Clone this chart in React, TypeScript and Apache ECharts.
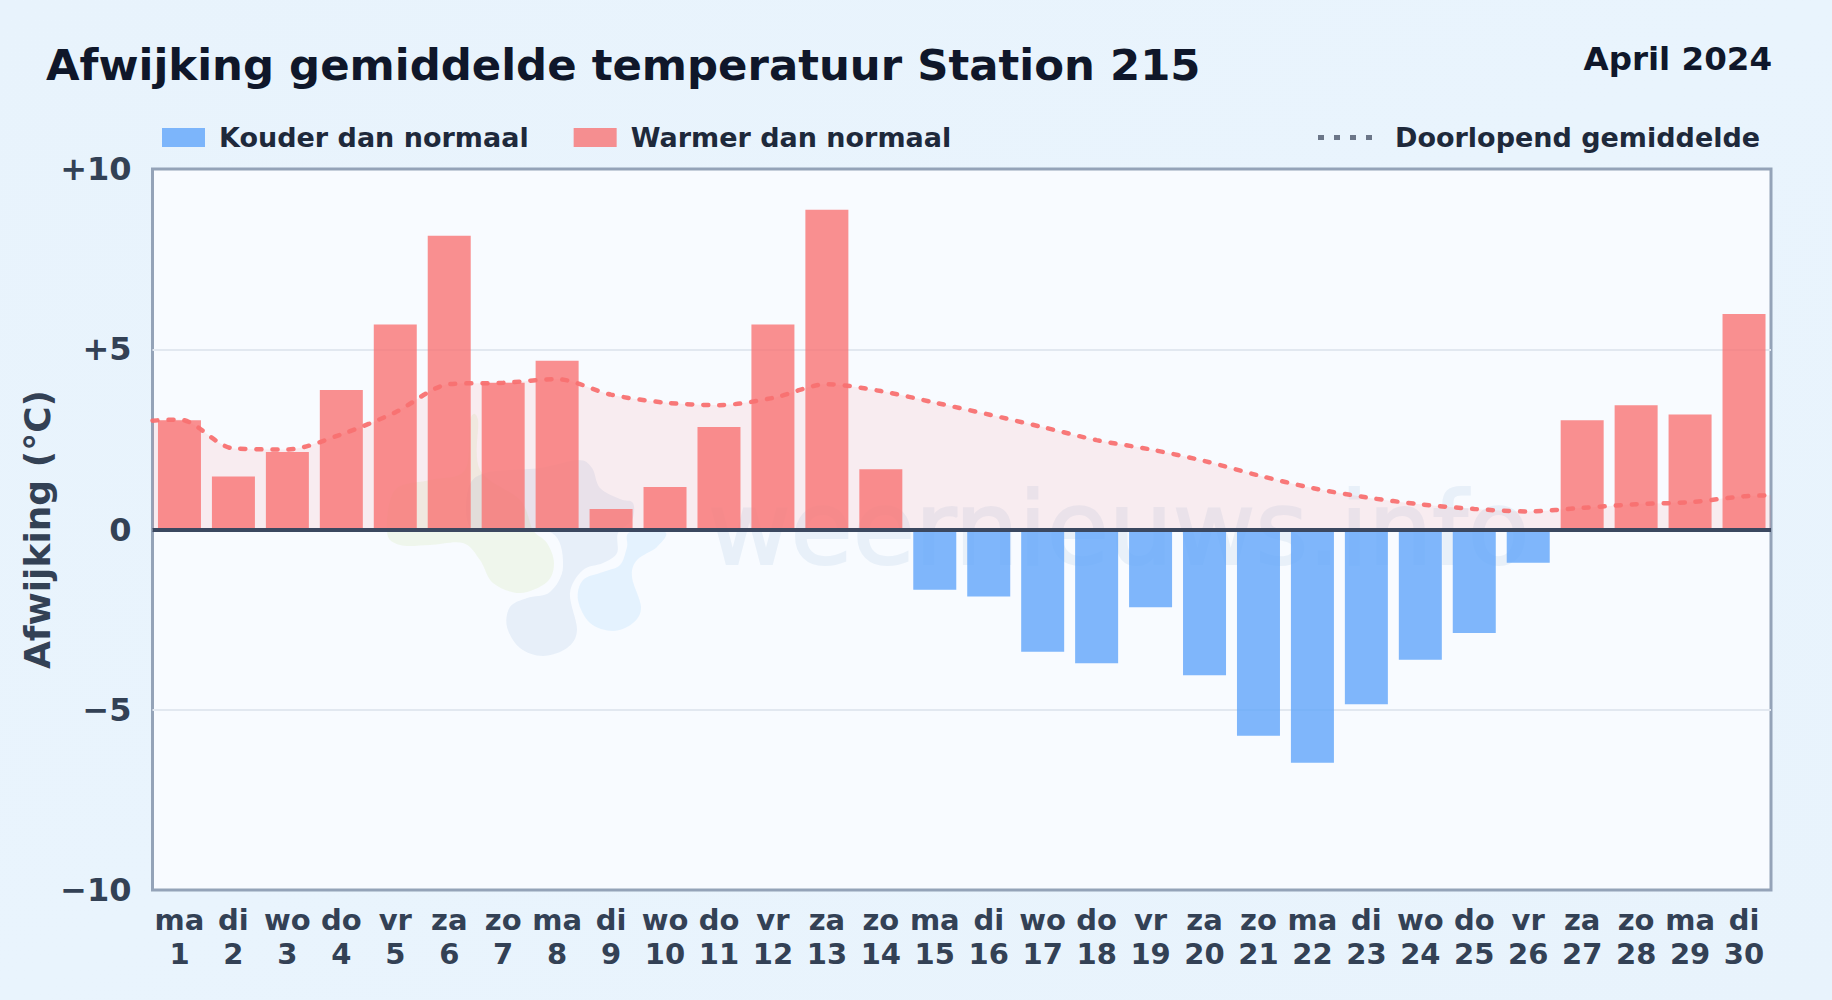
import React, { useEffect, useRef } from "react";
import * as echarts from "echarts";

const weekdays = ["ma","di","wo","do","vr","za","zo","ma","di","wo","do","vr","za","zo","ma","di","wo","do","vr","za","zo","ma","di","wo","do","vr","za","zo","ma","di"];
const days = ["1","2","3","4","5","6","7","8","9","10","11","12","13","14","15","16","17","18","19","20","21","22","23","24","25","26","27","28","29","30"];
const warm = [3.03,1.47,2.15,3.87,5.69,8.15,4.07,4.68,0.57,1.18,2.84,5.69,8.87,1.67,null,null,null,null,null,null,null,null,null,null,null,null,3.03,3.45,3.19,5.98];
const cold = [null,null,null,null,null,null,null,null,null,null,null,null,null,null,-1.67,-1.86,-3.39,-3.71,-2.16,-4.04,-5.72,-6.47,-4.85,-3.61,-2.87,-0.92,null,null,null,null];
const runningX = [0.5,1,2,3,4,5,6,7,8,9,10,11,12,13,14,15,16,17,18,19,20,21,22,23,24,25,26,27,28,29,30,30.5];
const runningY = [3.02,3.05,2.25,2.22,2.64,3.25,4.03,4.07,4.17,3.74,3.52,3.45,3.65,4.03,3.84,3.52,3.19,2.84,2.48,2.22,1.9,1.5,1.15,0.89,0.7,0.57,0.5,0.6,0.7,0.76,0.92,0.95];
const yTicks: Record<string,string> = { "10":"+10", "5":"+5", "0":"0", "-5":"\u22125", "-10":"\u221210" };

const logoDark = [[578,460],[592,468],[600,488],[620,499],[633,503],[632,520],[618,533],[617,553],[603,563],[583,570],[570,593],[577,630],[567,648],[543,656],[520,648],[507,627],[510,607],[527,598],[550,592],[563,567],[552,533],[500,528],[470,527],[468,490],[485,473],[540,468]];
const logoLight = [[630,532],[665,532],[657,547],[637,560],[632,577],[641,607],[633,623],[613,631],[590,623],[578,600],[583,580],[603,572],[620,565],[627,547]];
const logoGreen = [[387,532],[400,545],[430,545],[463,543],[480,560],[493,583],[520,593],[547,582],[554,563],[547,543],[533,530],[520,500],[480,470],[478,420],[470,420],[465,470],[430,480],[395,490]];

function blobPath(p: number[][]) {
  const n = p.length;
  let d = `M${p[0][0]} ${p[0][1]}`;
  for (let i = 0; i < n; i++) {
    const a = p[(i - 1 + n) % n], b = p[i], c = p[(i + 1) % n], e = p[(i + 2) % n];
    d += `C${b[0] + (c[0] - a[0]) / 6} ${b[1] + (c[1] - a[1]) / 6} ${c[0] - (e[0] - b[0]) / 6} ${c[1] - (e[1] - b[1]) / 6} ${c[0]} ${c[1]}`;
  }
  return d + "Z";
}

echarts.graphic.registerShape("logoDark", echarts.graphic.extendPath(blobPath(logoDark) as any, {}) as any);
echarts.graphic.registerShape("logoLight", echarts.graphic.extendPath(blobPath(logoLight) as any, {}) as any);
echarts.graphic.registerShape("logoGreen", echarts.graphic.extendPath(blobPath(logoGreen) as any, {}) as any);

const FONT = "DejaVu Sans";
const RED = "rgba(248,113,113,0.78)";
const BLUE = "rgba(96,165,250,0.8)";

export default function App() {
  const ref = useRef<HTMLDivElement>(null);
  useEffect(() => {
    document.body.style.margin = "0";
    const chart = echarts.init(ref.current!, undefined, { renderer: "svg" });
    chart.setOption({
      animation: false,
      backgroundColor: { type: "linear", x: 0, y: 0, x2: 1, y2: 1, colorStops: [{ offset: 0, color: "#e8f3fc" }, { offset: 0.5, color: "#e9f4fd" }, { offset: 1, color: "#e8f3fc" }] },
      textStyle: { fontFamily: FONT },
      title: [
        { text: "Afwijking gemiddelde temperatuur Station 215", left: 46, top: 43, padding: 0, textStyle: { fontFamily: FONT, fontWeight: "bold", fontSize: 43.4, color: "#0f172a" } },
        { text: "April 2024", right: 60, top: 42, padding: 0, textStyle: { fontFamily: FONT, fontWeight: "bold", fontSize: 32.5, color: "#0f172a" } },
      ],
      legend: [
        {
          left: 162, top: 124, padding: 0, itemWidth: 43, itemHeight: 19, itemGap: 45, icon: "rect",
          data: ["Kouder dan normaal", "Warmer dan normaal"],
          textStyle: { fontFamily: FONT, fontWeight: "bold", fontSize: 27, color: "#1e293b", padding: [0, 0, 0, 9] },
        },
        {
          left: 1318, top: 124, padding: 0, itemWidth: 54, itemHeight: 5,
          data: [{ name: "Doorlopend gemiddelde", icon: "path://M0 0h6v5h-6zM16 0h6v5h-6zM32 0h6v5h-6zM48 0h6v5h-6z", itemStyle: { color: "#6b7688" } }],
          textStyle: { fontFamily: FONT, fontWeight: "bold", fontSize: 27, color: "#1e293b", padding: [0, 0, 0, 18] },
        },
      ],
      grid: { left: 152.5, right: 61, top: 169, bottom: 110, show: true, outerBoundsMode: "none", backgroundColor: "#f8fbff", borderColor: "#94a3b8", borderWidth: 3 },
      xAxis: [
        {
          type: "category",
          data: days.map((d, i) => `${weekdays[i]}\n${d}`),
          axisLine: { show: false },
          axisTick: { show: false },
          axisLabel: { interval: 0, fontFamily: FONT, fontWeight: "bold", fontSize: 29, lineHeight: 34, color: "#334155", margin: 13 },
        },
        { type: "value", min: 0.5, max: 30.5, show: false },
      ],
      yAxis: {
        type: "value", min: -10, max: 10, interval: 5,
        name: "Afwijking (\u00b0C)", nameLocation: "middle", nameRotate: 90, nameGap: 97, nameMoveOverlap: false,
        nameTextStyle: { fontFamily: FONT, fontWeight: "bold", fontSize: 36, color: "#334155" },
        axisLine: { show: false }, axisTick: { show: false },
        axisLabel: { fontFamily: FONT, fontWeight: "bold", fontSize: 32, color: "#334155", margin: 21, formatter: (v: number) => yTicks[String(v)] },
        splitLine: { show: true, showMinLine: false, showMaxLine: false, lineStyle: { color: "#e2e8f0", width: 2 } },
      },
      graphic: [
        { type: "logoGreen", z: 1, silent: true, style: { fill: "rgba(170,205,70,0.1)" } },
        { type: "logoDark", z: 1, silent: true, style: { fill: "rgba(37,99,180,0.08)" } },
        { type: "logoLight", z: 1, silent: true, style: { fill: "rgba(56,170,248,0.1)" } },
        { type: "text", z: 1, silent: true, x: 708, y: 478, style: { text: "weernieuws.info", fontFamily: FONT, fontSize: 101, fill: "#e8f0f9", stroke: "#e8f0f9", lineWidth: 2 } },
      ],
      series: [
        { name: "Kouder dan normaal", type: "bar", data: cold, barWidth: 43, barGap: "-100%", itemStyle: { color: BLUE } },
        {
          name: "Warmer dan normaal", type: "bar", data: warm, barWidth: 43, barGap: "-100%", itemStyle: { color: RED },
          markLine: { silent: true, symbol: "none", label: { show: false }, lineStyle: { color: "#3b4860", width: 4, type: "solid" }, data: [{ yAxis: 0 }], z: 5 },
        },
        {
          name: "Doorlopend gemiddelde", type: "line", xAxisIndex: 1, smooth: 0.3, symbol: "none", z: 4,
          data: runningX.map((x, i) => [x, runningY[i]]),
          lineStyle: { color: "#f87171", width: 4.5, type: [5, 11], cap: "round", opacity: 0.95 },
          itemStyle: { color: "#f87171" },
          areaStyle: { color: "rgba(255,113,113,0.15)" },
        },
      ],
    });
    return () => chart.dispose();
  }, []);
  return <div ref={ref} style={{ width: 1832, height: 1000 }} />;
}
